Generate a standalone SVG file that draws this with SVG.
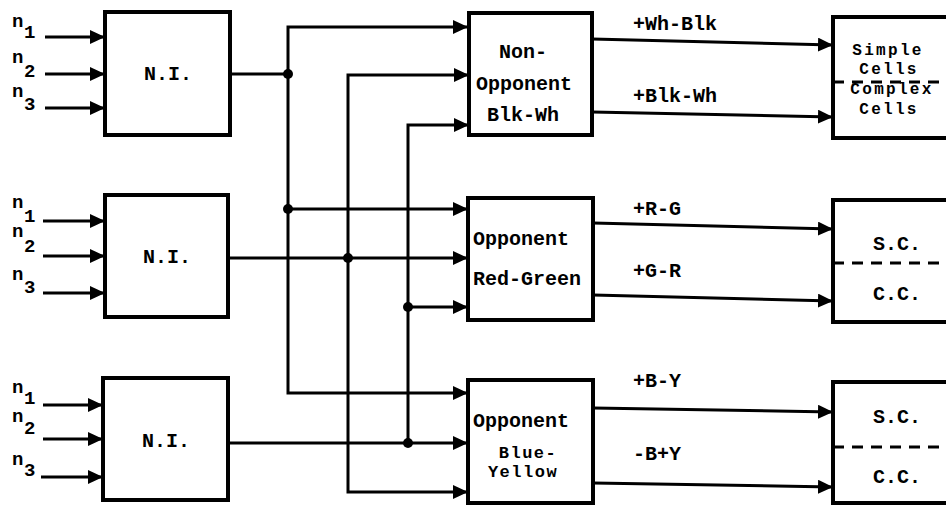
<svg xmlns="http://www.w3.org/2000/svg" width="946" height="505" viewBox="0 0 946 505">
<style>
.box{fill:#fff;stroke:#000;stroke-width:4}
.ln{fill:none;stroke:#000;stroke-width:3}
.ar{fill:none;stroke:#000;stroke-width:3;marker-end:url(#ah)}
.dash{fill:none;stroke:#000;stroke-width:3;stroke-dasharray:11 8}
.t{font-family:"Liberation Mono","DejaVu Sans Mono",monospace;font-weight:bold;font-size:20px;fill:#000}
.s{font-size:16px;letter-spacing:2.3px}
.y{font-size:17px;letter-spacing:1.5px}
.m{text-anchor:middle}
.n{font-family:"Liberation Mono","DejaVu Sans Mono",monospace;font-weight:bold;font-size:19px;fill:#000}
.dot{fill:#000}
</style>
<defs>
<marker id="ah" markerUnits="userSpaceOnUse" markerWidth="16" markerHeight="16" refX="15" refY="7" orient="auto">
<path d="M0,0 L15,7 L0,14 Z" fill="#000"/>
</marker>
</defs>

<g id="ni1">
<rect class="box" x="105" y="12" width="125" height="123"/>
<text class="t m" x="168" y="80">N.I.</text>
<text class="n" x="12" y="27">n</text><text class="n" x="24" y="38">1</text>
<text class="n" x="12" y="63">n</text><text class="n" x="24" y="77">2</text>
<text class="n" x="12" y="97">n</text><text class="n" x="24" y="110">3</text>
</g>
<g id="ni2">
<rect class="box" x="105" y="195" width="123" height="122"/>
<text class="t m" x="167" y="263">N.I.</text>
<text class="n" x="12" y="208">n</text><text class="n" x="24" y="222">1</text>
<text class="n" x="12" y="237">n</text><text class="n" x="24" y="252">2</text>
<text class="n" x="12" y="280">n</text><text class="n" x="24" y="293">3</text>
</g>
<g id="ni3">
<rect class="box" x="103" y="378" width="125" height="122"/>
<text class="t m" x="166" y="447">N.I.</text>
<text class="n" x="12" y="393">n</text><text class="n" x="24" y="404">1</text>
<text class="n" x="12" y="422">n</text><text class="n" x="24" y="434">2</text>
<text class="n" x="12" y="465">n</text><text class="n" x="24" y="476">3</text>
</g>

<g id="nonopp">
<rect class="box" x="469" y="13" width="123" height="122"/>
<text class="t m" x="523" y="58">Non-</text>
<text class="t m" x="524" y="90">Opponent</text>
<text class="t m" x="523" y="121">Blk-Wh</text>
</g>
<g id="redgreen">
<rect class="box" x="468" y="198" width="125" height="122"/>
<text class="t" x="473" y="245">Opponent</text>
<text class="t" x="473" y="285">Red-Green</text>
</g>
<g id="blueyellow">
<rect class="box" x="468" y="380" width="125" height="123"/>
<text class="t" x="473" y="427">Opponent</text>
<text class="t y m" x="528" y="458">Blue-</text>
<text class="t y m" x="523" y="477">Yellow</text>
</g>

<g id="cells1">
<rect class="box" x="833" y="17" width="130" height="121"/>
<line class="dash" x1="833" y1="82" x2="946" y2="82"/>
<text class="t s m" x="888" y="55">Simple</text>
<text class="t s m" x="889" y="74">Cells</text>
<text class="t s m" x="892" y="94">Complex</text>
<text class="t s m" x="889" y="114">Cells</text>
</g>
<g id="cells2">
<rect class="box" x="833" y="200" width="130" height="122"/>
<line class="dash" x1="833" y1="263" x2="946" y2="263"/>
<text class="t m" x="897" y="250">S.C.</text>
<text class="t m" x="897" y="300">C.C.</text>
</g>
<g id="cells3">
<rect class="box" x="833" y="382" width="130" height="121"/>
<line class="dash" x1="833" y1="447" x2="946" y2="447"/>
<text class="t m" x="897" y="423">S.C.</text>
<text class="t m" x="897" y="483">C.C.</text>
</g>

<g id="connectors">
<!-- inputs -->
<line class="ar" x1="45" y1="37" x2="105" y2="37"/>
<line class="ar" x1="45" y1="74" x2="105" y2="74"/>
<line class="ar" x1="45" y1="108" x2="105" y2="108"/>
<line class="ar" x1="43" y1="221" x2="105" y2="221"/>
<line class="ar" x1="43" y1="256" x2="105" y2="256"/>
<line class="ar" x1="43" y1="293" x2="105" y2="293"/>
<line class="ar" x1="43" y1="405" x2="103" y2="405"/>
<line class="ar" x1="43" y1="439" x2="103" y2="439"/>
<line class="ar" x1="41" y1="477" x2="103" y2="477"/>
<!-- NI1 output bus -->
<line class="ln" x1="230" y1="74" x2="288" y2="74"/>
<path class="ar" d="M288,74 L288,27 L468,27"/>
<path class="ar" d="M288,74 L288,393 L468,393"/>
<line class="ar" x1="288" y1="209" x2="468" y2="209"/>
<!-- NI2 output bus -->
<line class="ar" x1="228" y1="258" x2="468" y2="258"/>
<path class="ar" d="M348,258 L348,75 L469,75"/>
<path class="ar" d="M348,258 L348,492 L468,492"/>
<!-- NI3 output bus -->
<line class="ar" x1="228" y1="443" x2="468" y2="443"/>
<path class="ar" d="M408,443 L408,125 L469,125"/>
<line class="ar" x1="408" y1="307" x2="468" y2="307"/>
<!-- outputs -->
<line class="ar" x1="592" y1="39" x2="833" y2="45"/>
<line class="ar" x1="592" y1="112" x2="833" y2="117"/>
<line class="ar" x1="593" y1="223" x2="833" y2="229"/>
<line class="ar" x1="593" y1="295" x2="833" y2="301"/>
<line class="ar" x1="593" y1="408" x2="833" y2="412"/>
<line class="ar" x1="593" y1="483" x2="833" y2="487"/>
<!-- junction dots -->
<circle class="dot" cx="288" cy="74" r="5"/>
<circle class="dot" cx="288" cy="209" r="5"/>
<circle class="dot" cx="348" cy="258" r="5"/>
<circle class="dot" cx="408" cy="307" r="5"/>
<circle class="dot" cx="408" cy="443" r="5"/>
<!-- labels -->
<text class="t" x="633" y="30">+Wh-Blk</text>
<text class="t" x="633" y="102">+Blk-Wh</text>
<text class="t" x="633" y="215">+R-G</text>
<text class="t" x="633" y="277">+G-R</text>
<text class="t" x="633" y="387">+B-Y</text>
<text class="t" x="633" y="460">-B+Y</text>
</g>
</svg>
